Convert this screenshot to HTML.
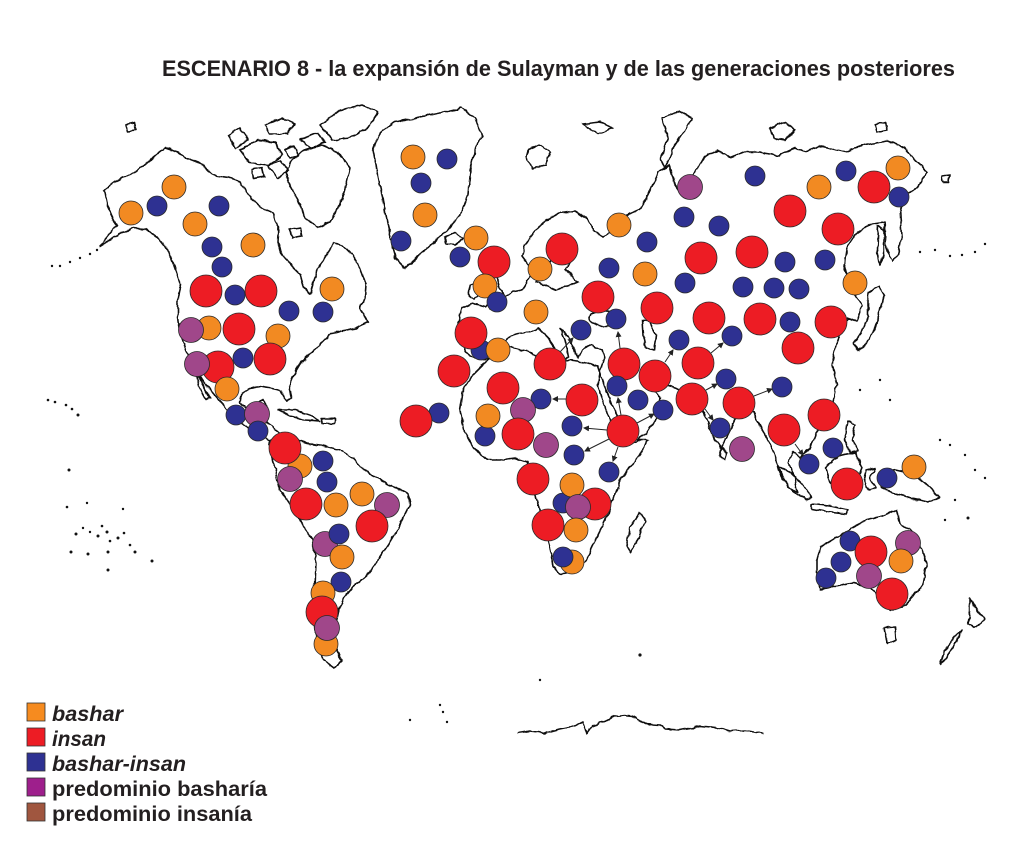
<!DOCTYPE html>
<html><head><meta charset="utf-8"><style>
html,body{margin:0;padding:0;background:#fff;}
body{width:1016px;height:850px;overflow:hidden;}
svg{display:block;}
.c{fill:none;stroke:#111;stroke-width:1.6;stroke-linejoin:round;}
.o{fill:#F28A22;stroke:#2a2a2a;stroke-width:0.8;}
.r{fill:#ED1C24;stroke:#2a2a2a;stroke-width:0.8;}
.b{fill:#2E3192;stroke:#2a2a2a;stroke-width:0.8;}
.p{fill:#A0478A;stroke:#2a2a2a;stroke-width:0.8;}
.a{stroke:#222;stroke-width:1;fill:none;marker-end:url(#ah);}
.t{font-family:"Liberation Sans",sans-serif;font-weight:bold;fill:#231F20;}
</style></head><body>
<svg width="1016" height="850" viewBox="0 0 1016 850" xmlns="http://www.w3.org/2000/svg">
<defs>
<marker id="ah" markerWidth="6" markerHeight="6" refX="5" refY="3" orient="auto" markerUnits="userSpaceOnUse"><path d="M0,0 L6,3 L0,6 Z" fill="#222"/></marker>
<filter id="wig" x="-5%" y="-5%" width="110%" height="110%">
<feTurbulence type="fractalNoise" baseFrequency="0.12" numOctaves="2" seed="3" result="n"/>
<feDisplacementMap in="SourceGraphic" in2="n" scale="4" xChannelSelector="R" yChannelSelector="G"/>
</filter>
</defs>
<rect width="1016" height="850" fill="#fff"/>
<text class="t" x="162" y="76" font-size="22" textLength="793" lengthAdjust="spacingAndGlyphs">ESCENARIO 8 - la expansión de Sulayman y de las generaciones posteriores</text>

<!-- coastlines -->
<g class="c" filter="url(#wig)">
<!-- North America -->
<path d="M104,190 L115,182 L128,176 L140,168 L152,158 L165,148 L177,152 L190,160 L203,165 L213,175 L228,178 L240,182 L246,193 L255,203 L264,210 L273,214 L278,227 L277,242 L283,255 L292,266 L300,274 L304,288 L310,294 L314,280 L319,267 L327,254 L334,243 L343,245 L352,254 L360,268 L366,284 L365,298 L360,308 L368,322 L356,328 L342,331 L330,334 L320,344 L310,354 L300,364 L293,376 L289,386 L292,398 L286,400 L281,390 L272,388 L260,386 L250,388 L242,393 L240,402 L245,408 L256,406 L263,400 L268,407 L262,414 L268,424 L278,431 L288,440 L294,447 L286,452 L276,444 L263,437 L250,429 L238,421 L228,411 L220,401 L212,392 L204,383 L198,374 L192,363 L186,350 L181,335 L178,318 L178,300 L181,285 L176,270 L171,256 L165,246 L157,236 L145,229 L133,228 L120,234 L108,241 L100,246 L110,234 L117,226 L112,216 L107,205 Z"/>
<path d="M196,372 L203,385 L210,398 L206,399 L199,386 Z"/>
<!-- Arctic islands -->
<path d="M292,160 L305,150 L322,145 L338,152 L350,168 L346,185 L340,205 L330,222 L318,228 L305,218 L298,200 L290,185 L285,172 Z"/>
<path d="M320,125 L340,110 L362,105 L378,112 L368,128 L350,138 L332,140 Z"/>
<path d="M300,140 L318,133 L325,142 L310,148 Z"/>
<path d="M240,150 L258,140 L275,142 L282,155 L268,165 L250,163 Z"/>
<path d="M228,135 L240,128 L248,140 L236,148 Z"/>
<path d="M265,125 L282,118 L295,124 L288,134 L270,134 Z"/>
<path d="M268,165 L280,160 L288,170 L278,178 Z"/>
<path d="M252,170 L262,168 L264,176 L254,178 Z"/>
<path d="M285,150 L294,146 L298,156 L290,158 Z"/>
<path d="M290,230 L300,228 L302,236 L292,238 Z"/>
<path d="M126,125 L134,123 L136,130 L128,131 Z"/>
<!-- Greenland -->
<path d="M373,150 L380,132 L395,122 L420,117 L445,112 L462,108 L475,118 L482,135 L475,150 L470,170 L468,195 L460,215 L445,232 L425,250 L405,268 L395,258 L390,235 L385,210 L380,185 L376,165 Z"/>
<path d="M445,237 L455,233 L462,238 L456,245 L446,244 Z"/>
<!-- Caribbean -->
<path d="M278,410 L295,410 L310,415 L320,421 L305,420 L290,416 Z"/>
<path d="M322,418 L335,418 L335,424 L322,423 Z"/>
<!-- South America -->
<path d="M270,440 L282,436 L292,438 L307,443 L325,446 L340,450 L353,458 L362,468 L372,476 L390,485 L408,494 L410,505 L405,515 L397,530 L388,545 L378,560 L366,576 L354,586 L344,598 L338,612 L334,630 L336,648 L342,662 L334,668 L323,660 L316,640 L314,612 L315,588 L316,562 L312,540 L300,520 L290,505 L280,490 L276,472 L272,458 Z"/>
<!-- Eurasia -->
<path d="M458,322 L462,308 L472,304 L486,307 L492,300 L503,298 L512,292 L522,290 L527,283 L530,276 L534,270 L528,264 L522,256 L525,245 L534,232 L546,220 L560,213 L575,211 L588,220 L595,232 L603,236 L612,232 L620,222 L628,215 L640,210 L648,195 L658,172 L670,165 L675,185 L682,195 L692,178 L703,158 L718,150 L730,158 L745,152 L760,152 L778,156 L795,148 L805,152 L820,146 L845,152 L865,145 L888,141 L905,148 L915,160 L928,172 L918,186 L908,194 L900,210 L902,235 L898,255 L892,262 L886,245 L884,222 L870,224 L856,234 L847,247 L844,266 L849,285 L857,297 L862,306 L857,322 L848,318 L842,328 L836,345 L832,365 L837,385 L833,402 L826,420 L816,433 L810,448 L800,458 L793,452 L788,462 L795,478 L798,492 L788,487 L780,470 L775,455 L768,440 L760,426 L753,412 L744,412 L735,420 L727,436 L721,448 L714,438 L707,420 L700,405 L690,396 L680,390 L668,386 L657,380 L650,388 L660,398 L656,418 L646,434 L630,445 L618,440 L611,422 L603,402 L598,386 L600,372 L604,358 L602,350 L592,345 L582,350 L578,358 L572,345 L568,336 L560,328 L565,340 L569,356 L562,362 L556,350 L548,338 L538,328 L528,332 L516,334 L506,340 L498,350 L490,358 L478,360 L466,352 L460,340 Z"/>
<path d="M536,282 L545,285 L556,290 L568,286 L578,282 L572,276 L566,270 L570,262 L574,250 L566,242 L556,246 L552,258 L548,268 L540,275 Z"/>
<ellipse cx="605" cy="318" rx="16" ry="8"/>
<path d="M642,320 L650,322 L656,335 L654,350 L646,348 L643,335 Z"/>
<path d="M484,272 L491,266 L496,274 L499,286 L505,298 L502,306 L490,308 L494,298 L488,290 L486,280 Z"/>
<path d="M470,285 L478,282 L481,292 L474,299 L468,294 Z"/>
<path d="M528,150 L540,145 L550,152 L545,165 L533,168 L526,160 Z"/>
<path d="M662,118 L680,112 L692,118 L684,132 L672,150 L665,168 L660,160 L668,138 Z"/>
<path d="M770,128 L785,122 L795,130 L785,140 L773,138 Z"/>
<path d="M875,125 L885,122 L887,130 L877,132 Z"/>
<path d="M583,124 L600,122 L612,128 L598,134 Z"/>
<path d="M942,176 L950,175 L949,182 L943,182 Z"/>
<path d="M878,225 L884,230 L884,255 L880,265 L877,250 Z"/>
<path d="M868,292 L878,286 L884,296 L880,312 L874,330 L866,344 L858,350 L854,344 L862,332 L868,316 Z"/>
<path d="M835,412 L838,418 L833,424 L831,417 Z"/>
<path d="M848,420 L855,425 L852,440 L858,450 L850,452 L845,440 Z"/>
<path d="M722,448 L727,452 L725,460 L720,456 Z"/>
<!-- Africa -->
<path d="M500,343 L515,348 L530,352 L545,362 L555,364 L570,360 L585,362 L598,366 L602,378 L608,395 L615,412 L626,432 L638,440 L648,440 L640,455 L628,470 L620,482 L613,500 L607,517 L598,535 L592,546 L585,562 L572,572 L560,574 L553,566 L550,548 L545,530 L540,512 L536,497 L530,478 L527,462 L515,458 L500,460 L487,460 L474,448 L465,432 L460,410 L463,392 L470,378 L480,368 L490,358 Z"/>
<path d="M640,512 L645,520 L638,540 L630,552 L626,545 L630,528 Z"/>
<!-- SE Asia / Oceania -->
<path d="M778,466 L790,472 L804,486 L812,498 L806,500 L792,490 L782,478 Z"/>
<path d="M812,504 L830,506 L848,510 L845,514 L828,512 L812,509 Z"/>
<path d="M826,468 L838,456 L855,452 L862,468 L855,486 L840,490 L830,482 Z"/>
<path d="M866,470 L875,468 L870,478 L876,488 L868,490 L864,480 Z"/>
<path d="M878,478 L895,470 L912,474 L928,485 L940,498 L928,502 L910,498 L895,494 L882,488 Z"/>
<path d="M817,560 L820,547 L837,537 L853,527 L867,520 L880,517 L897,510 L900,523 L910,530 L920,547 L927,563 L923,583 L913,597 L903,607 L890,610 L880,597 L870,587 L853,583 L833,587 L820,590 L817,577 Z"/>
<path d="M884,628 L895,627 L896,640 L888,644 Z"/>
<path d="M970,598 L978,612 L985,618 L975,628 L968,624 L970,612 Z"/>
<path d="M962,630 L955,645 L946,658 L940,665 L944,652 L955,636 Z"/>
<!-- Antarctica -->
<path d="M518,733 L530,731 L545,733 L560,729 L575,726 L583,722 L587,733 L592,726 L605,721 L615,716 L625,715 L632,716 L645,724 L660,725 L665,729 L680,730 L700,726 L720,728 L730,731 L745,730 L763,733"/>
</g>
<!-- small islands -->
<g fill="#111">
<circle cx="48" cy="400" r="1.3"/><circle cx="55" cy="402" r="1.3"/><circle cx="66" cy="405" r="1.3"/><circle cx="72" cy="409" r="1.3"/><circle cx="78" cy="415" r="1.5"/>
<circle cx="69" cy="470" r="1.5"/><circle cx="67" cy="507" r="1.3"/><circle cx="87" cy="503" r="1.2"/>
<circle cx="76" cy="534" r="1.5"/><circle cx="83" cy="528" r="1.2"/><circle cx="90" cy="532" r="1.2"/><circle cx="98" cy="536" r="1.5"/><circle cx="102" cy="526" r="1.3"/><circle cx="107" cy="532" r="1.5"/><circle cx="110" cy="541" r="1.3"/><circle cx="118" cy="538" r="1.5"/><circle cx="124" cy="533" r="1.3"/><circle cx="130" cy="545" r="1.3"/><circle cx="135" cy="552" r="1.5"/><circle cx="71" cy="552" r="1.5"/><circle cx="88" cy="554" r="1.5"/><circle cx="108" cy="552" r="1.5"/><circle cx="108" cy="570" r="1.5"/><circle cx="152" cy="561" r="1.5"/><circle cx="123" cy="509" r="1.2"/>
<circle cx="60" cy="266" r="1.2"/><circle cx="70" cy="262" r="1.2"/><circle cx="80" cy="258" r="1.2"/><circle cx="90" cy="254" r="1.2"/><circle cx="97" cy="250" r="1.2"/><circle cx="52" cy="266" r="1.2"/>
<circle cx="920" cy="252" r="1.2"/><circle cx="935" cy="250" r="1.2"/><circle cx="950" cy="256" r="1.2"/><circle cx="962" cy="255" r="1.2"/><circle cx="975" cy="252" r="1.2"/><circle cx="985" cy="244" r="1.2"/>
<circle cx="940" cy="440" r="1.2"/><circle cx="950" cy="445" r="1.2"/><circle cx="965" cy="455" r="1.2"/><circle cx="975" cy="470" r="1.2"/><circle cx="955" cy="500" r="1.2"/><circle cx="968" cy="518" r="1.5"/><circle cx="945" cy="520" r="1.2"/><circle cx="985" cy="478" r="1.2"/>
<circle cx="860" cy="390" r="1.2"/><circle cx="880" cy="380" r="1.2"/><circle cx="890" cy="400" r="1.2"/><circle cx="640" cy="655" r="1.6"/><circle cx="540" cy="680" r="1.2"/><circle cx="410" cy="720" r="1.2"/>
<circle cx="440" cy="705" r="1.2"/><circle cx="443" cy="712" r="1.2"/><circle cx="447" cy="722" r="1.2"/>
</g>

<!-- arrows -->
<g>
<path class="a" d="M560,352 L573,338"/>
<path class="a" d="M620,348 L618,332"/>
<path class="a" d="M665,362 L673,350"/>
<path class="a" d="M566,399 L553,399"/>
<path class="a" d="M621,415 L618,398"/>
<path class="a" d="M607,430 L584,428"/>
<path class="a" d="M609,439 L585,451"/>
<path class="a" d="M618,447 L613,461"/>
<path class="a" d="M637,423 L654,414"/>
<path class="a" d="M711,353 L723,343"/>
<path class="a" d="M706,390 L717,384"/>
<path class="a" d="M705,409 L713,420"/>
<path class="a" d="M754,396 L772,389"/>
<path class="a" d="M795,444 L803,455"/>
</g>

<!-- circles -->
<g>
<circle class="o" cx="174" cy="187" r="12"/>
<circle class="b" cx="157" cy="206" r="10"/>
<circle class="o" cx="131" cy="213" r="12"/>
<circle class="b" cx="219" cy="206" r="10"/>
<circle class="o" cx="195" cy="224" r="12"/>
<circle class="b" cx="212" cy="247" r="10"/>
<circle class="o" cx="253" cy="245" r="12"/>
<circle class="b" cx="222" cy="267" r="10"/>
<circle class="r" cx="206" cy="291" r="16"/>
<circle class="b" cx="235" cy="295" r="10"/>
<circle class="r" cx="261" cy="291" r="16"/>
<circle class="o" cx="332" cy="289" r="12"/>
<circle class="b" cx="289" cy="311" r="10"/>
<circle class="b" cx="323" cy="312" r="10"/>
<circle class="o" cx="209" cy="328" r="12"/>
<circle class="p" cx="191" cy="330" r="12.5"/>
<circle class="r" cx="239" cy="329" r="16"/>
<circle class="o" cx="278" cy="336" r="12"/>
<circle class="r" cx="218" cy="367" r="16"/>
<circle class="p" cx="197" cy="364" r="12.5"/>
<circle class="b" cx="243" cy="358" r="10"/>
<circle class="r" cx="270" cy="359" r="16"/>
<circle class="o" cx="227" cy="389" r="12"/>
<circle class="b" cx="236" cy="415" r="10"/>
<circle class="p" cx="257" cy="414" r="12.5"/>
<circle class="b" cx="258" cy="431" r="10"/>
<circle class="o" cx="300" cy="466" r="12"/>
<circle class="r" cx="285" cy="448" r="16"/>
<circle class="b" cx="323" cy="461" r="10"/>
<circle class="p" cx="290" cy="479" r="12.5"/>
<circle class="b" cx="327" cy="482" r="10"/>
<circle class="r" cx="306" cy="504" r="16"/>
<circle class="o" cx="336" cy="505" r="12"/>
<circle class="o" cx="362" cy="494" r="12"/>
<circle class="p" cx="387" cy="505" r="12.5"/>
<circle class="r" cx="372" cy="526" r="16"/>
<circle class="p" cx="325" cy="544" r="12.5"/>
<circle class="b" cx="339" cy="534" r="10"/>
<circle class="o" cx="342" cy="557" r="12"/>
<circle class="b" cx="341" cy="582" r="10"/>
<circle class="o" cx="323" cy="593" r="12"/>
<circle class="o" cx="326" cy="644" r="12"/>
<circle class="r" cx="322" cy="612" r="16"/>
<circle class="p" cx="327" cy="628" r="12.5"/>
<circle class="o" cx="413" cy="157" r="12"/>
<circle class="b" cx="447" cy="159" r="10"/>
<circle class="b" cx="421" cy="183" r="10"/>
<circle class="o" cx="425" cy="215" r="12"/>
<circle class="b" cx="401" cy="241" r="10"/>
<circle class="o" cx="476" cy="238" r="12"/>
<circle class="b" cx="460" cy="257" r="10"/>
<circle class="r" cx="494" cy="262" r="16"/>
<circle class="o" cx="485" cy="286" r="12"/>
<circle class="b" cx="497" cy="302" r="10"/>
<circle class="o" cx="540" cy="269" r="12"/>
<circle class="r" cx="562" cy="249" r="16"/>
<circle class="o" cx="536" cy="312" r="12"/>
<circle class="b" cx="481" cy="350" r="10"/>
<circle class="r" cx="471" cy="333" r="16"/>
<circle class="o" cx="498" cy="350" r="12"/>
<circle class="r" cx="454" cy="371" r="16"/>
<circle class="r" cx="503" cy="388" r="16"/>
<circle class="b" cx="541" cy="399" r="10"/>
<circle class="b" cx="439" cy="413" r="10"/>
<circle class="r" cx="416" cy="421" r="16"/>
<circle class="r" cx="550" cy="364" r="16"/>
<circle class="b" cx="581" cy="330" r="10"/>
<circle class="r" cx="598" cy="297" r="16"/>
<circle class="b" cx="616" cy="319" r="10"/>
<circle class="b" cx="609" cy="268" r="10"/>
<circle class="o" cx="645" cy="274" r="12"/>
<circle class="b" cx="647" cy="242" r="10"/>
<circle class="o" cx="619" cy="225" r="12"/>
<circle class="p" cx="523" cy="410" r="12.5"/>
<circle class="b" cx="485" cy="436" r="10"/>
<circle class="o" cx="488" cy="416" r="12"/>
<circle class="r" cx="518" cy="434" r="16"/>
<circle class="p" cx="546" cy="445" r="12.5"/>
<circle class="b" cx="572" cy="426" r="10"/>
<circle class="r" cx="623" cy="431" r="16"/>
<circle class="b" cx="574" cy="455" r="10"/>
<circle class="b" cx="609" cy="472" r="10"/>
<circle class="r" cx="582" cy="400" r="16"/>
<circle class="r" cx="533" cy="479" r="16"/>
<circle class="r" cx="595" cy="504" r="16"/>
<circle class="b" cx="563" cy="503" r="10"/>
<circle class="o" cx="572" cy="485" r="12"/>
<circle class="p" cx="578" cy="507" r="12.5"/>
<circle class="r" cx="548" cy="525" r="16"/>
<circle class="o" cx="576" cy="530" r="12"/>
<circle class="o" cx="572" cy="562" r="12"/>
<circle class="b" cx="563" cy="557" r="10"/>
<circle class="r" cx="624" cy="364" r="16"/>
<circle class="b" cx="617" cy="386" r="10"/>
<circle class="r" cx="655" cy="376" r="16"/>
<circle class="b" cx="638" cy="400" r="10"/>
<circle class="b" cx="663" cy="410" r="10"/>
<circle class="r" cx="692" cy="399" r="16"/>
<circle class="r" cx="698" cy="363" r="16"/>
<circle class="b" cx="679" cy="340" r="10"/>
<circle class="p" cx="690" cy="187" r="12.5"/>
<circle class="b" cx="684" cy="217" r="10"/>
<circle class="r" cx="701" cy="258" r="16"/>
<circle class="b" cx="685" cy="283" r="10"/>
<circle class="r" cx="657" cy="308" r="16"/>
<circle class="r" cx="709" cy="318" r="16"/>
<circle class="b" cx="755" cy="176" r="10"/>
<circle class="o" cx="819" cy="187" r="12"/>
<circle class="b" cx="846" cy="171" r="10"/>
<circle class="r" cx="874" cy="187" r="16"/>
<circle class="o" cx="898" cy="168" r="12"/>
<circle class="b" cx="899" cy="197" r="10"/>
<circle class="r" cx="790" cy="211" r="16"/>
<circle class="r" cx="838" cy="229" r="16"/>
<circle class="b" cx="719" cy="226" r="10"/>
<circle class="r" cx="752" cy="252" r="16"/>
<circle class="b" cx="785" cy="262" r="10"/>
<circle class="b" cx="825" cy="260" r="10"/>
<circle class="b" cx="743" cy="287" r="10"/>
<circle class="b" cx="774" cy="288" r="10"/>
<circle class="b" cx="799" cy="289" r="10"/>
<circle class="o" cx="855" cy="283" r="12"/>
<circle class="r" cx="760" cy="319" r="16"/>
<circle class="b" cx="790" cy="322" r="10"/>
<circle class="r" cx="831" cy="322" r="16"/>
<circle class="b" cx="732" cy="336" r="10"/>
<circle class="r" cx="798" cy="348" r="16"/>
<circle class="b" cx="726" cy="379" r="10"/>
<circle class="b" cx="782" cy="387" r="10"/>
<circle class="r" cx="739" cy="403" r="16"/>
<circle class="r" cx="824" cy="415" r="16"/>
<circle class="r" cx="784" cy="430" r="16"/>
<circle class="b" cx="720" cy="428" r="10"/>
<circle class="p" cx="742" cy="449" r="12.5"/>
<circle class="b" cx="809" cy="464" r="10"/>
<circle class="b" cx="833" cy="448" r="10"/>
<circle class="r" cx="847" cy="484" r="16"/>
<circle class="b" cx="887" cy="478" r="10"/>
<circle class="o" cx="914" cy="467" r="12"/>
<circle class="b" cx="850" cy="541" r="10"/>
<circle class="r" cx="871" cy="552" r="16"/>
<circle class="p" cx="908" cy="543" r="12.5"/>
<circle class="o" cx="901" cy="561" r="12"/>
<circle class="b" cx="841" cy="562" r="10"/>
<circle class="b" cx="826" cy="578" r="10"/>
<circle class="r" cx="892" cy="594" r="16"/>
<circle class="p" cx="869" cy="576" r="12.5"/>
</g>

<!-- legend -->
<g stroke="#333" stroke-width="0.8">
<rect x="27" y="703" width="18" height="18" fill="#F68B1F"/>
<rect x="27" y="728" width="18" height="18" fill="#ED1C24"/>
<rect x="27" y="753" width="18" height="18" fill="#2E3192"/>
<rect x="27" y="778" width="18" height="18" fill="#9E1F8C"/>
<rect x="27" y="803" width="18" height="18" fill="#A0563F"/>
</g>
<g class="t" font-size="21">
<text x="52" y="721" font-style="italic" textLength="71" lengthAdjust="spacingAndGlyphs">bashar</text>
<text x="52" y="746" font-style="italic" textLength="54" lengthAdjust="spacingAndGlyphs">insan</text>
<text x="52" y="771" font-style="italic" textLength="134" lengthAdjust="spacingAndGlyphs">bashar-insan</text>
<text x="52" y="796" textLength="215" lengthAdjust="spacingAndGlyphs">predominio basharía</text>
<text x="52" y="821" textLength="200" lengthAdjust="spacingAndGlyphs">predominio insanía</text>
</g>
</svg>
</body></html>
